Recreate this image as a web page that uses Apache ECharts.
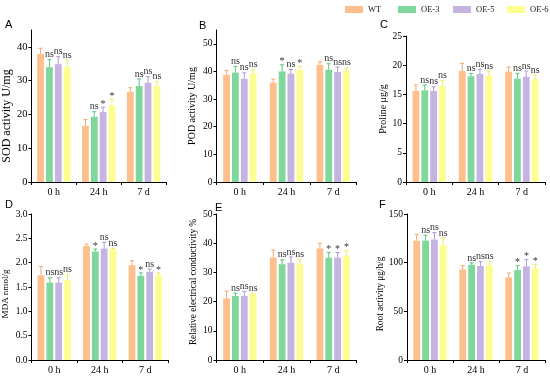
<!DOCTYPE html>
<html><head><meta charset="utf-8">
<script src="https://cdn.jsdelivr.net/npm/echarts@6/dist/echarts.min.js"></script>
<style>html,body{margin:0;padding:0;background:#fff}#c{width:550px;height:376px}</style>
</head><body><div id="c"></div>
<script>
const categories = ['0 h', '24 h', '7 d'];
const groups = ['WT', 'OE-3', 'OE-5', 'OE-6'];
const colors = ['#FDBF8C', '#7FD89B', '#C6B4E0', '#FDFD90'];
const errColors = ['#F4A86E', '#5CC77D', '#AE98D2', '#EDED60'];

// A: SOD activity (rows: WT, OE-3, OE-5, OE-6; cols: 0 h, 24 h, 7 d)
const sodMean = [[37.9, 16.6, 26.7], [34.0, 19.3, 28.4], [34.9, 20.7, 29.4], [34.0, 22.6, 28.4]];
const sodErr  = [[1.7, 1.9, 1.2], [2.3, 1.5, 2.1], [2.2, 1.4, 1.8], [2.1, 1.9, 1.4]];
const sodSig  = [['', '', ''], ['ns', 'ns', 'ns'], ['ns', '*', 'ns'], ['ns', '*', 'ns']];
// B: POD activity
const podMean = [[38.8, 36.0, 42.4], [39.6, 40.0, 40.6], [37.3, 39.2, 39.8], [39.2, 40.6, 40.2]];
const podErr  = [[1.6, 1.2, 1.1], [2.2, 2.4, 2.2], [2.2, 1.5, 1.8], [1.4, 1.2, 1.1]];
const podSig  = [['', '', ''], ['ns', '*', 'ns'], ['ns', 'ns', 'ns'], ['ns', '*', 'ns']];
// C: Proline
const proMean = [[15.6, 19.0, 18.9], [15.7, 18.1, 17.7], [15.6, 18.5, 18.0], [16.4, 18.2, 17.6]];
const proErr  = [[1.0, 1.3, 0.8], [0.9, 0.5, 0.9], [0.7, 0.8, 1.0], [1.0, 0.8, 0.7]];
const proSig  = [['', '', ''], ['ns', 'ns', 'ns'], ['ns', 'ns', 'ns'], ['ns', 'ns', 'ns']];
// D: MDA
const mdaMean = [[1.74, 2.34, 1.95], [1.59, 2.23, 1.73], [1.59, 2.29, 1.81], [1.64, 2.27, 1.73]];
const mdaErr  = [[0.18, 0.04, 0.09], [0.10, 0.05, 0.06], [0.10, 0.13, 0.06], [0.11, 0.02, 0.06]];
const mdaSig  = [['', '', ''], ['ns', '*', '*'], ['ns', 'ns', 'ns'], ['ns', 'ns', '*']];
// E: Relative electrical conductivity
const recMean = [[21.1, 35.1, 38.2], [21.9, 32.8, 35.0], [21.9, 33.3, 35.1], [22.6, 33.0, 35.6]];
const recErr  = [[2.5, 2.5, 1.7], [1.0, 1.5, 1.8], [1.6, 2.0, 1.7], [0.3, 1.4, 1.8]];
const recSig  = [['', '', ''], ['ns', 'ns', '*'], ['ns', 'ns', '*'], ['ns', 'ns', '*']];
// F: Root activity
const rootMean = [[122.7, 93.1, 84.9], [122.7, 97.9, 92.4], [123.7, 96.6, 96.2], [117.9, 97.3, 94.2]];
const rootErr  = [[6.2, 3.8, 4.4], [5.5, 1.8, 4.5], [7.2, 4.4, 6.9], [7.5, 4.1, 4.1]];
const rootSig  = [['', '', ''], ['ns', 'ns', '*'], ['ns', 'ns', '*'], ['ns', 'ns', '*']];

const panels = [
  {letter: 'A', name: 'SOD activity U/mg', mean: sodMean, err: sodErr, sig: sodSig, min: 0, max: 45, interval: 10, hideMax: true, dec: 0,
   grid: {left: 29, top: 30, width: 137, height: 152}, nameGap: 17, nameSize: 12, tickSize: 10.5, shift: 10, lx: 5, ly: 19},
  {letter: 'B', name: 'POD activity U/mg', mean: podMean, err: podErr, sig: podSig, min: 0, max: 55, interval: 10, hideMax: true, dec: 0,
   grid: {left: 216.5, top: 30, width: 140, height: 152}, nameGap: 19, nameSize: 10, tickSize: 9.5, shift: 0, lx: 199, ly: 20},
  {letter: 'C', name: 'Proline μg/g', mean: proMean, err: proErr, sig: proSig, min: 0, max: 25, interval: 5, hideMax: false, dec: 0,
   grid: {left: 406, top: 36, width: 139, height: 146}, nameGap: 17, nameSize: 10, tickSize: 9.5, shift: 0, lx: 380, ly: 19},
  {letter: 'D', name: 'MDA nmol/g', mean: mdaMean, err: mdaErr, sig: mdaSig, min: 0, max: 3, interval: 0.5, hideMax: false, dec: 1,
   grid: {left: 31.5, top: 214, width: 136.5, height: 146}, nameGap: 21, nameSize: 9, tickSize: 9.5, shift: 7, lx: 5, ly: 199},
  {letter: 'E', name: 'Relative electrical conductivity %', mean: recMean, err: recErr, sig: recSig, min: 0, max: 50, interval: 10, hideMax: false, dec: 0,
   grid: {left: 216.5, top: 214, width: 140, height: 146}, nameGap: 18, nameSize: 9.3, tickSize: 9.5, shift: -5, lx: 215, ly: 202},
  {letter: 'F', name: 'Root activity μg/h/g', mean: rootMean, err: rootErr, sig: rootSig, min: 0, max: 150, interval: 50, hideMax: false, dec: 0,
   grid: {left: 407, top: 214, width: 138, height: 146}, nameGap: 19, nameSize: 9.3, tickSize: 9.5, shift: 7, lx: 379, ly: 199}
];

const BW = 6.8, GAP = 0.3;
const serif = 'Liberation Serif';

const grid = [], xAxis = [], yAxis = [], series = [], title = [];
panels.forEach((p, i) => {
  grid.push(Object.assign({containLabel: false}, p.grid));
  xAxis.push({
    type: 'category', gridIndex: i, data: categories,
    axisLine: {lineStyle: {color: '#000', width: 1}},
    axisTick: {show: true, length: 3, lineStyle: {color: '#000'}},
    axisLabel: {fontFamily: serif, fontSize: 10, color: '#000', margin: 5}
  });
  const pad = p.shift >= 0 ? [0, 2 * p.shift, 0, 0] : [0, 0, 0, -2 * p.shift];
  yAxis.push({
    type: 'value', gridIndex: i, min: p.min, max: p.max, interval: p.interval,
    name: p.name, nameLocation: 'middle', nameGap: p.nameGap,
    nameTextStyle: {fontFamily: serif, fontSize: p.nameSize, color: '#000', padding: pad},
    axisLine: {show: true, lineStyle: {color: '#000', width: 1}},
    axisTick: {show: true, length: 3, lineStyle: {color: '#000'}},
    axisLabel: {fontFamily: serif, fontSize: p.tickSize, color: '#000', margin: 4, showMaxLabel: !p.hideMax,
      formatter: v => v.toFixed(p.dec)},
    splitLine: {show: false}
  });
  title.push({text: p.letter, left: p.lx, top: p.ly, padding: 0, textStyle: {fontFamily: 'Liberation Sans', fontSize: 11, fontWeight: 'normal', color: '#000'}});
  groups.forEach((g, s) => {
    series.push({
      type: 'bar', name: g, xAxisIndex: i, yAxisIndex: i, data: p.mean[s],
      barWidth: BW, barGap: (GAP * 100) + '%', itemStyle: {color: colors[s]}, silent: true
    });
  });
  const edata = [];
  groups.forEach((g, s) => categories.forEach((c, k) => edata.push([k, s, p.mean[s][k], p.err[s][k]])));
  series.push({
    type: 'custom', xAxisIndex: i, yAxisIndex: i, data: edata, silent: true, z: 5,
    renderItem: (params, api) => {
      const k = api.value(0), s = api.value(1), m = api.value(2), e = api.value(3);
      const base = api.coord([k, m]);
      const top = api.coord([k, m + e]);
      const x = base[0] + (s - 1.5) * BW * (1 + GAP);
      const lab = p.sig[s][k];
      const col = errColors[s];
      return {
        type: 'group', children: [
          {type: 'line', shape: {x1: x, y1: base[1], x2: x, y2: top[1]}, style: {stroke: col, lineWidth: 1}},
          {type: 'line', shape: {x1: x - 2, y1: top[1], x2: x + 2, y2: top[1]}, style: {stroke: col, lineWidth: 1}},
          {type: 'text', x: x, y: top[1] - (lab === '*' ? -2 : 0), style: {text: lab, fontFamily: serif, fontSize: 10, fill: '#333', align: 'center', verticalAlign: 'bottom'}}
        ]
      };
    }
  });
});

const legendLefts = [345, 398, 453, 507];
const legend = groups.map((g, s) => ({
  data: [g], left: legendLefts[s], top: 5, itemWidth: 18, itemHeight: 7, itemGap: 5, icon: 'rect', padding: 0,
  textStyle: {fontFamily: serif, fontSize: 8.5, color: '#222'}, selectedMode: false
}));

const chart = echarts.init(document.getElementById('c'), null, {renderer: 'canvas'});
chart.setOption({animation: false, title, grid, xAxis, yAxis, series, legend});
</script></body></html>
